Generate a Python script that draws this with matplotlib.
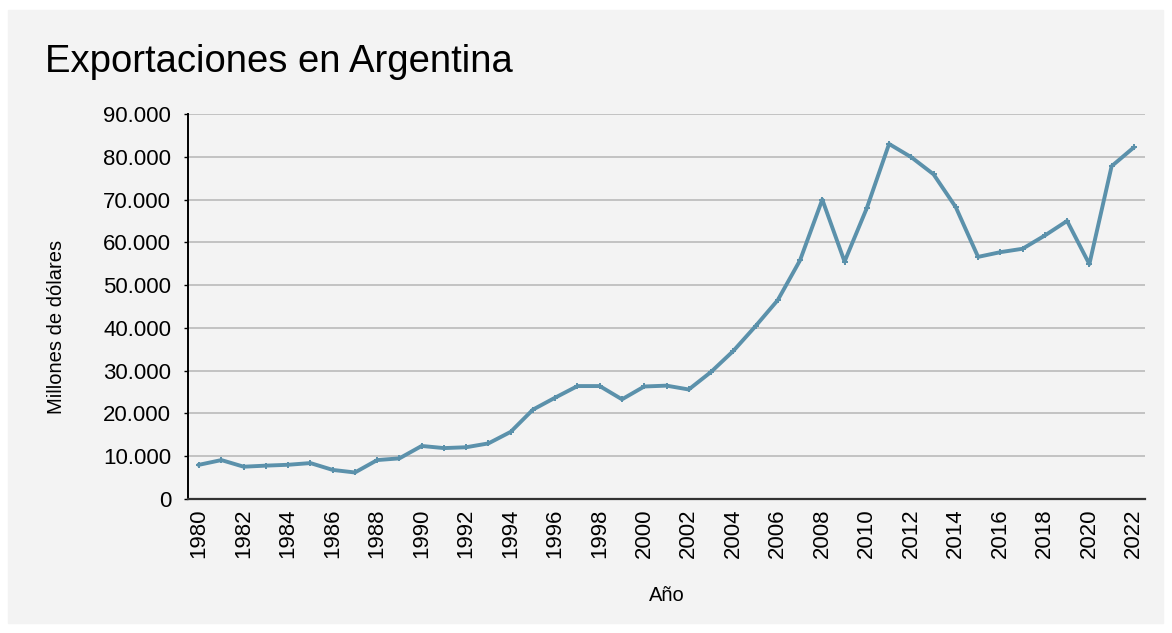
import matplotlib.pyplot as plt
import matplotlib.patches as patch
from matplotlib.ticker import FuncFormatter

years = list(range(1980, 2023))
exports = [8000, 9100, 7550, 7800, 8000, 8400, 6800, 6200, 9100, 9500,
           12400, 11900, 12100, 13000, 15700, 20900, 23700, 26400, 26400, 23300,
           26300, 26500, 25600, 29700, 34600, 40400, 46500, 55800, 70000, 55500,
           68000, 83000, 79900, 75900, 68200, 56600, 57700, 58500, 61600, 65000,
           54900, 77800, 82200]
y_ticks = list(range(0, 90001, 10000))
x_ticks = years[::2]

plt.rcParams['font.family'] = ['Liberation Sans', 'DejaVu Sans']

fig = plt.figure(figsize=(11.72, 6.33), dpi=100)
fig.patch.set_facecolor('white')
fig.add_artist(patch.Rectangle((8 / 1172, 10 / 633), 1155 / 1172, 613 / 633,
                               transform=fig.transFigure, color='#f3f3f3', zorder=-1))

ax = fig.add_axes([188 / 1172, 1 - 499 / 633, (1145 - 188) / 1172, (499 - 114) / 633])
ax.set_facecolor('none')

ax.plot(years, exports, color='#5b91ab', lw=2.8, marker='P', ms=5,
        markeredgewidth=0, zorder=3)

ax.set_xlim(1979.5, 2022.5)
ax.set_ylim(0, 90000)
ax.set_yticks(y_ticks)
ax.yaxis.set_major_formatter(FuncFormatter(lambda v, p: f'{int(v):,}'.replace(',', '.')))
ax.set_xticks(x_ticks)
ax.set_xticklabels([str(y) for y in x_ticks], rotation=90)
ax.tick_params(axis='y', labelsize=16, length=3, width=1, pad=9)
ax.tick_params(axis='x', labelsize=16, length=0, pad=7)

ax.grid(axis='y', color='#c2c2c2', lw=1.4)
ax.set_axisbelow(True)
for s in ['top', 'right']:
    ax.spines[s].set_visible(False)
ax.spines['left'].set_linewidth(1.4)
ax.spines['bottom'].set_linewidth(1.6)
ax.spines['bottom'].set_color('#333333')

ax.set_ylabel('Millones de dólares', fontsize=14.5)
ax.yaxis.set_label_coords(-0.128, 0.447)
ax.set_xlabel('Año', fontsize=14.5, labelpad=20)
fig.text(45 / 1172, 1 - 62 / 633, 'Exportaciones en Argentina', fontsize=27.5,
         va='center', ha='left')

fig.savefig('out.png', dpi=100, facecolor=fig.get_facecolor())
